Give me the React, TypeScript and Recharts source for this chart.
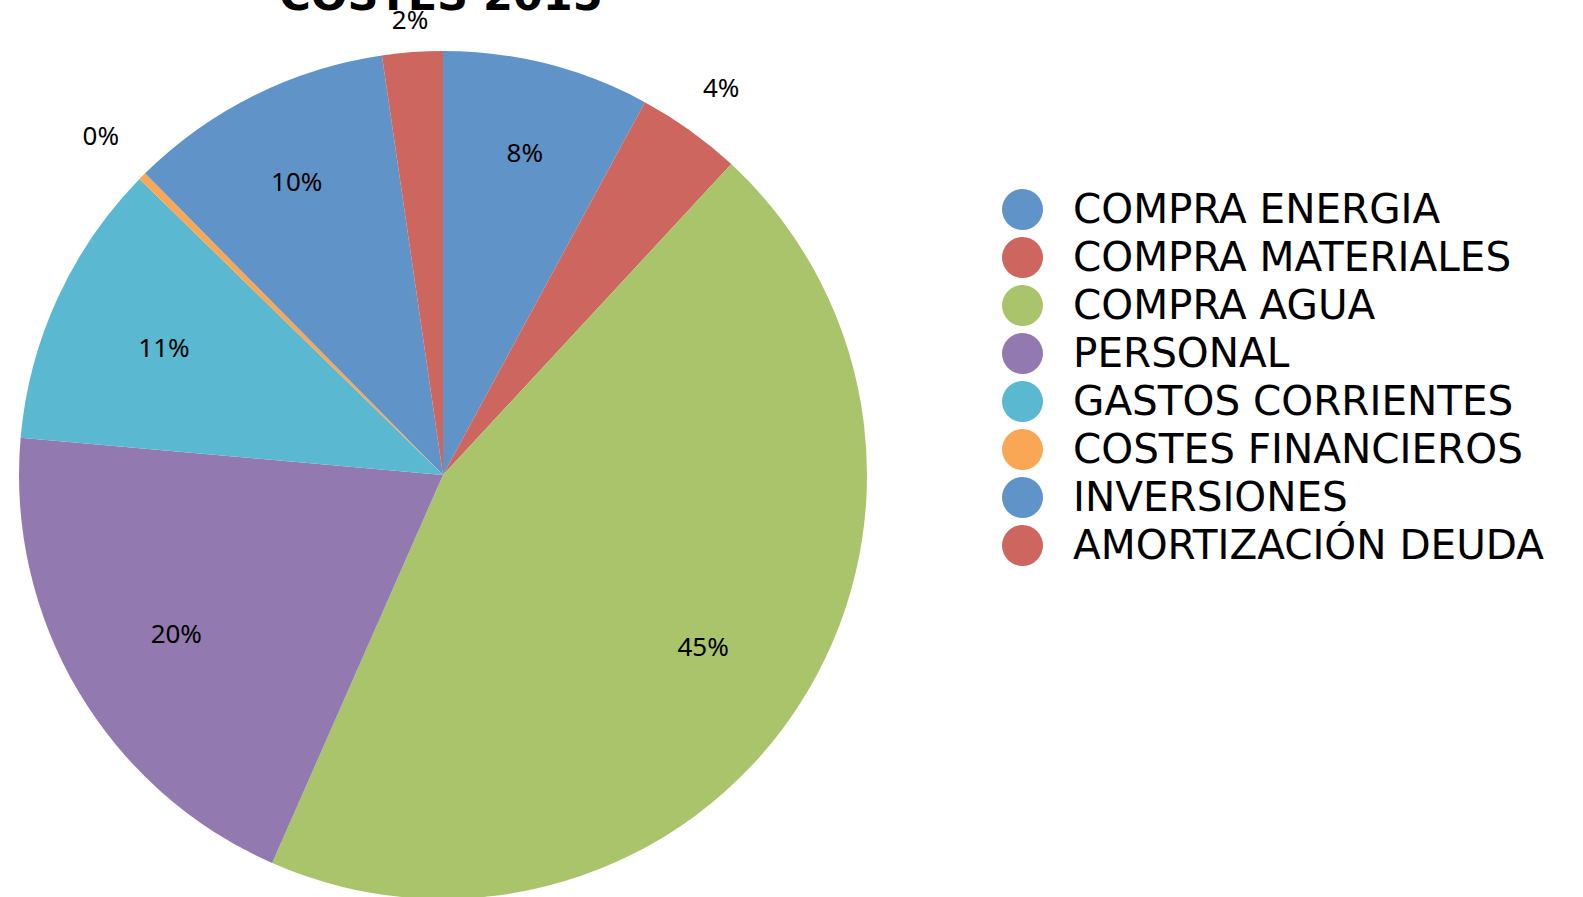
import { PieChart, Pie, Cell, Legend } from "recharts";

const categories = [
  "COMPRA ENERGIA",
  "COMPRA MATERIALES",
  "COMPRA AGUA",
  "PERSONAL",
  "GASTOS CORRIENTES",
  "COSTES FINANCIEROS",
  "INVERSIONES",
  "AMORTIZACIÓN DEUDA",
];

// share of total costs, in %
const costValues = [7.9, 4.0, 44.7, 19.8, 10.9, 0.3, 10.1, 2.3];

const sliceColors = [
  "#6094c8",
  "#cc665e",
  "#aac46c",
  "#927ab0",
  "#5ab8d0",
  "#faa755",
  "#6094c8",
  "#cc665e",
];

const chartTitle = "COSTES 2015";

const data = categories.map((name, i) => ({ name, value: costValues[i] }));

const RAD = Math.PI / 180;

// small slices get their label outside, like excel's "best fit"
function renderLabel(props: any) {
  const { cx, cy, midAngle, outerRadius, percent } = props;
  const h = Math.cos(-midAngle * RAD);
  const v = Math.sin(-midAngle * RAD);
  const outside = percent < 0.05;
  const r = outside
    ? outerRadius + 30 + 40 * Math.abs(h)
    : outerRadius * (0.71 + 0.08 * v * v);
  const x = cx + r * h;
  const y = cy + r * v;
  return (
    <text
      x={x}
      y={y}
      textAnchor="middle"
      dominantBaseline="central"
      fill="#000"
      fontFamily="'Noto Sans', sans-serif"
      fontSize={26}
    >
      {`${Math.round(percent * 100)}%`}
    </text>
  );
}

function renderLegend(props: any) {
  const { payload } = props;
  return (
    <div style={{ fontFamily: "'DejaVu Sans', sans-serif", fontSize: 40.5 }}>
      {(payload || []).map((entry: any, i: number) => (
        <div
          key={i}
          style={{ height: 48, display: "flex", alignItems: "center" }}
        >
          <span
            style={{
              width: 41,
              height: 41,
              borderRadius: "50%",
              background: sliceColors[i],
              display: "inline-block",
            }}
          />
          <span style={{ marginLeft: 30, color: "#000", whiteSpace: "nowrap" }}>
            {categories[i]}
          </span>
        </div>
      ))}
    </div>
  );
}

export default function App() {
  return (
    <div
      style={{
        position: "absolute",
        left: 0,
        top: 0,
        width: 1583,
        height: 897,
        overflow: "hidden",
        background: "#fff",
      }}
    >
      <PieChart
        width={1583}
        height={897}
        margin={{ top: 0, right: 0, bottom: 0, left: 0 }}
      >
        <Pie
          data={data}
          dataKey="value"
          nameKey="name"
          cx={443}
          cy={475}
          outerRadius={424}
          startAngle={90}
          endAngle={-270}
          stroke="none"
          label={renderLabel}
          labelLine={false}
          isAnimationActive={false}
        >
          {data.map((_, i) => (
            <Cell key={i} fill={sliceColors[i]} />
          ))}
        </Pie>
        <Legend
          content={renderLegend}
          wrapperStyle={{ position: "absolute", left: 1002, top: 185, width: 580 }}
        />
      </PieChart>
      <svg
        width={1583}
        height={60}
        style={{ position: "absolute", left: 0, top: 0, pointerEvents: "none" }}
      >
        <text
          x={441}
          y={10}
          textAnchor="middle"
          fontFamily="'DejaVu Sans', sans-serif"
          fontWeight="bold"
          fontSize={43}
          fill="#000"
        >
          {chartTitle}
        </text>
      </svg>
    </div>
  );
}
